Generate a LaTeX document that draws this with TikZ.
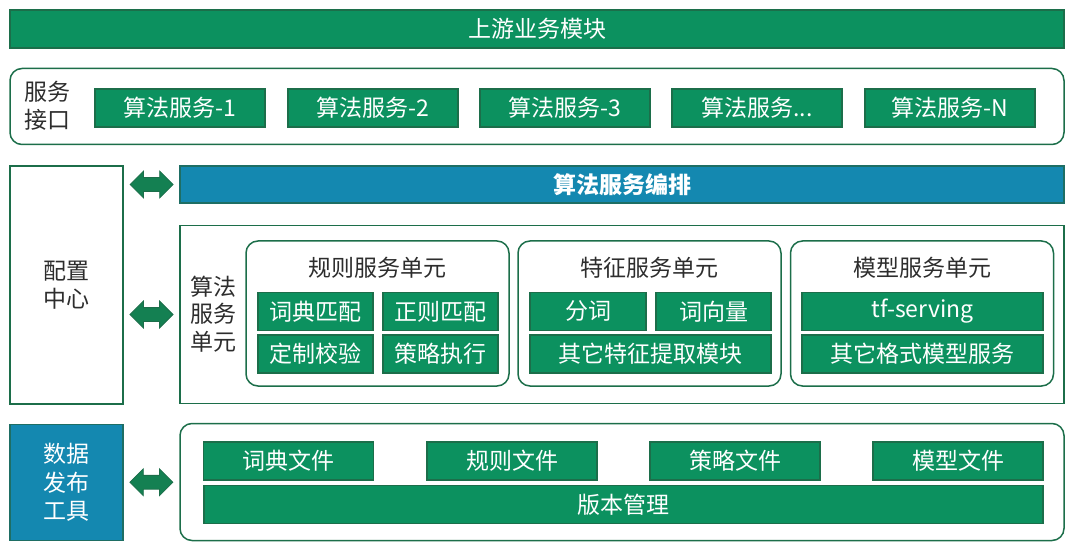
\documentclass[tikz,border=0pt]{standalone}
\usepackage{fontspec}
\setmainfont{Noto Sans CJK SC}
\usetikzlibrary{shapes.arrows, calc}
\definecolor{gfill}{RGB}{12,145,95}
\definecolor{gline}{RGB}{28,110,74}
\definecolor{bfill}{RGB}{20,136,176}
\definecolor{bline}{RGB}{30,110,100}
\definecolor{afill}{RGB}{20,128,82}
\definecolor{txt}{RGB}{45,45,45}
\newcommand\svcdots{...}

\begin{document}
\begin{tikzpicture}[x=1pt, y=-1pt]
\tikzstyle{gbox}=[draw=gline, fill=gfill, line width=1.2pt, text=white, inner sep=0pt, font=\fontsize{23}{27}\selectfont]
\tikzstyle{bbox}=[draw=bline, fill=bfill, line width=1.2pt, text=white, inner sep=0pt, align=center, font=\fontsize{23}{28.5}\selectfont]
\tikzstyle{frame}=[draw=gline, line width=1.5pt, inner sep=0pt]
\tikzstyle{rframe}=[frame, rounded corners=12pt]
\tikzstyle{lbl}=[text=txt, align=center, inner sep=0pt, font=\fontsize{23}{27.5}\selectfont]
\tikzstyle{dblarrow}=[double arrow, draw=gline, fill=afill, line width=0.8pt, inner xsep=0pt, inner ysep=6.5pt, minimum height=43, double arrow head extend=6.5pt]

\useasboundingbox (0,0) rectangle (1074,556);

% upstream + service interface
\node[gbox, minimum width=1054, minimum height=38] (up) at (537,29) {上游业务模块};
\node[rframe, minimum width=1054, minimum height=76] (api) at (537,106.5) {};
\node[lbl, align=left] (apilbl) at (47,106) {服务\\接口};
\foreach \i/\x/\t in {1/180/算法服务-1, 2/373/算法服务-2, 3/565/算法服务-3, 4/757/算法服务\svcdots, 5/950/算法服务-N} {
\node[gbox, minimum width=170, minimum height=38] (svc\i) at (\x,108) {\t};
}

% config center, orchestration, service units
\node[frame, lbl, minimum width=113, minimum height=238] (cfg) at (66.5,285) {配置\\中心};
\node[bbox, font=\fontsize{23}{27}\selectfont\bfseries, minimum width=884, minimum height=37] (orch) at (622,184.5) {算法服务编排};
\node[frame, minimum width=884, minimum height=178] (algo) at (622,314.5) {};
\node[lbl] (algolbl) at (213,314) {算法\\服务\\单元};
\foreach \n/\x/\t in {rule/377.5/规则服务单元, feat/649.5/特征服务单元, model/922/模型服务单元} {
\node[rframe, minimum width=263, minimum height=145] (\n) at (\x,313.5) {};
\node[lbl] (\n t) at (\x,268) {\t};
}
\foreach \n/\x/\y/\w/\t in {dict/315.5/311.5/115/词典匹配, regex/440.5/311.5/115/正则匹配,
  check/315.5/354/115/定制校验, policy/440.5/354/115/策略执行,
  seg/588/311.5/116/分词, vec/713.5/311.5/115/词向量, feat2/650.5/354/241/其它特征提取模块,
  tfs/922.5/311.5/241/tf-serving, model2/922.5/354/241/其它格式模型服务} {
\node[gbox, minimum width=\w, minimum height=38] (\n) at (\x,\y) {\t};
}

% data publishing
\node[bbox, minimum width=113, minimum height=116] (pub) at (66.5,482.5) {数据\\发布\\工具};
\node[rframe, minimum width=884, minimum height=117] (files) at (622,482) {};
\foreach \i/\x/\t in {1/288.5/词典文件, 2/512/规则文件, 3/735/策略文件, 4/958/模型文件} {
\node[gbox, minimum width=170, minimum height=38] (file\i) at (\x,461) {\t};
}
\node[gbox, minimum width=839, minimum height=38] (ver) at (623.5,504.5) {版本管理};

% double arrows
\node[dblarrow] (a1) at ($(cfg.east |- orch.west)!.5!(orch.west)$) {};
\node[dblarrow] (a2) at ($(cfg.east |- algo.west)!.5!(algo.west)$) {};
\node[dblarrow] (a3) at ($(pub.east)!.5!(files.west)$) {};

\end{tikzpicture}
\end{document}
